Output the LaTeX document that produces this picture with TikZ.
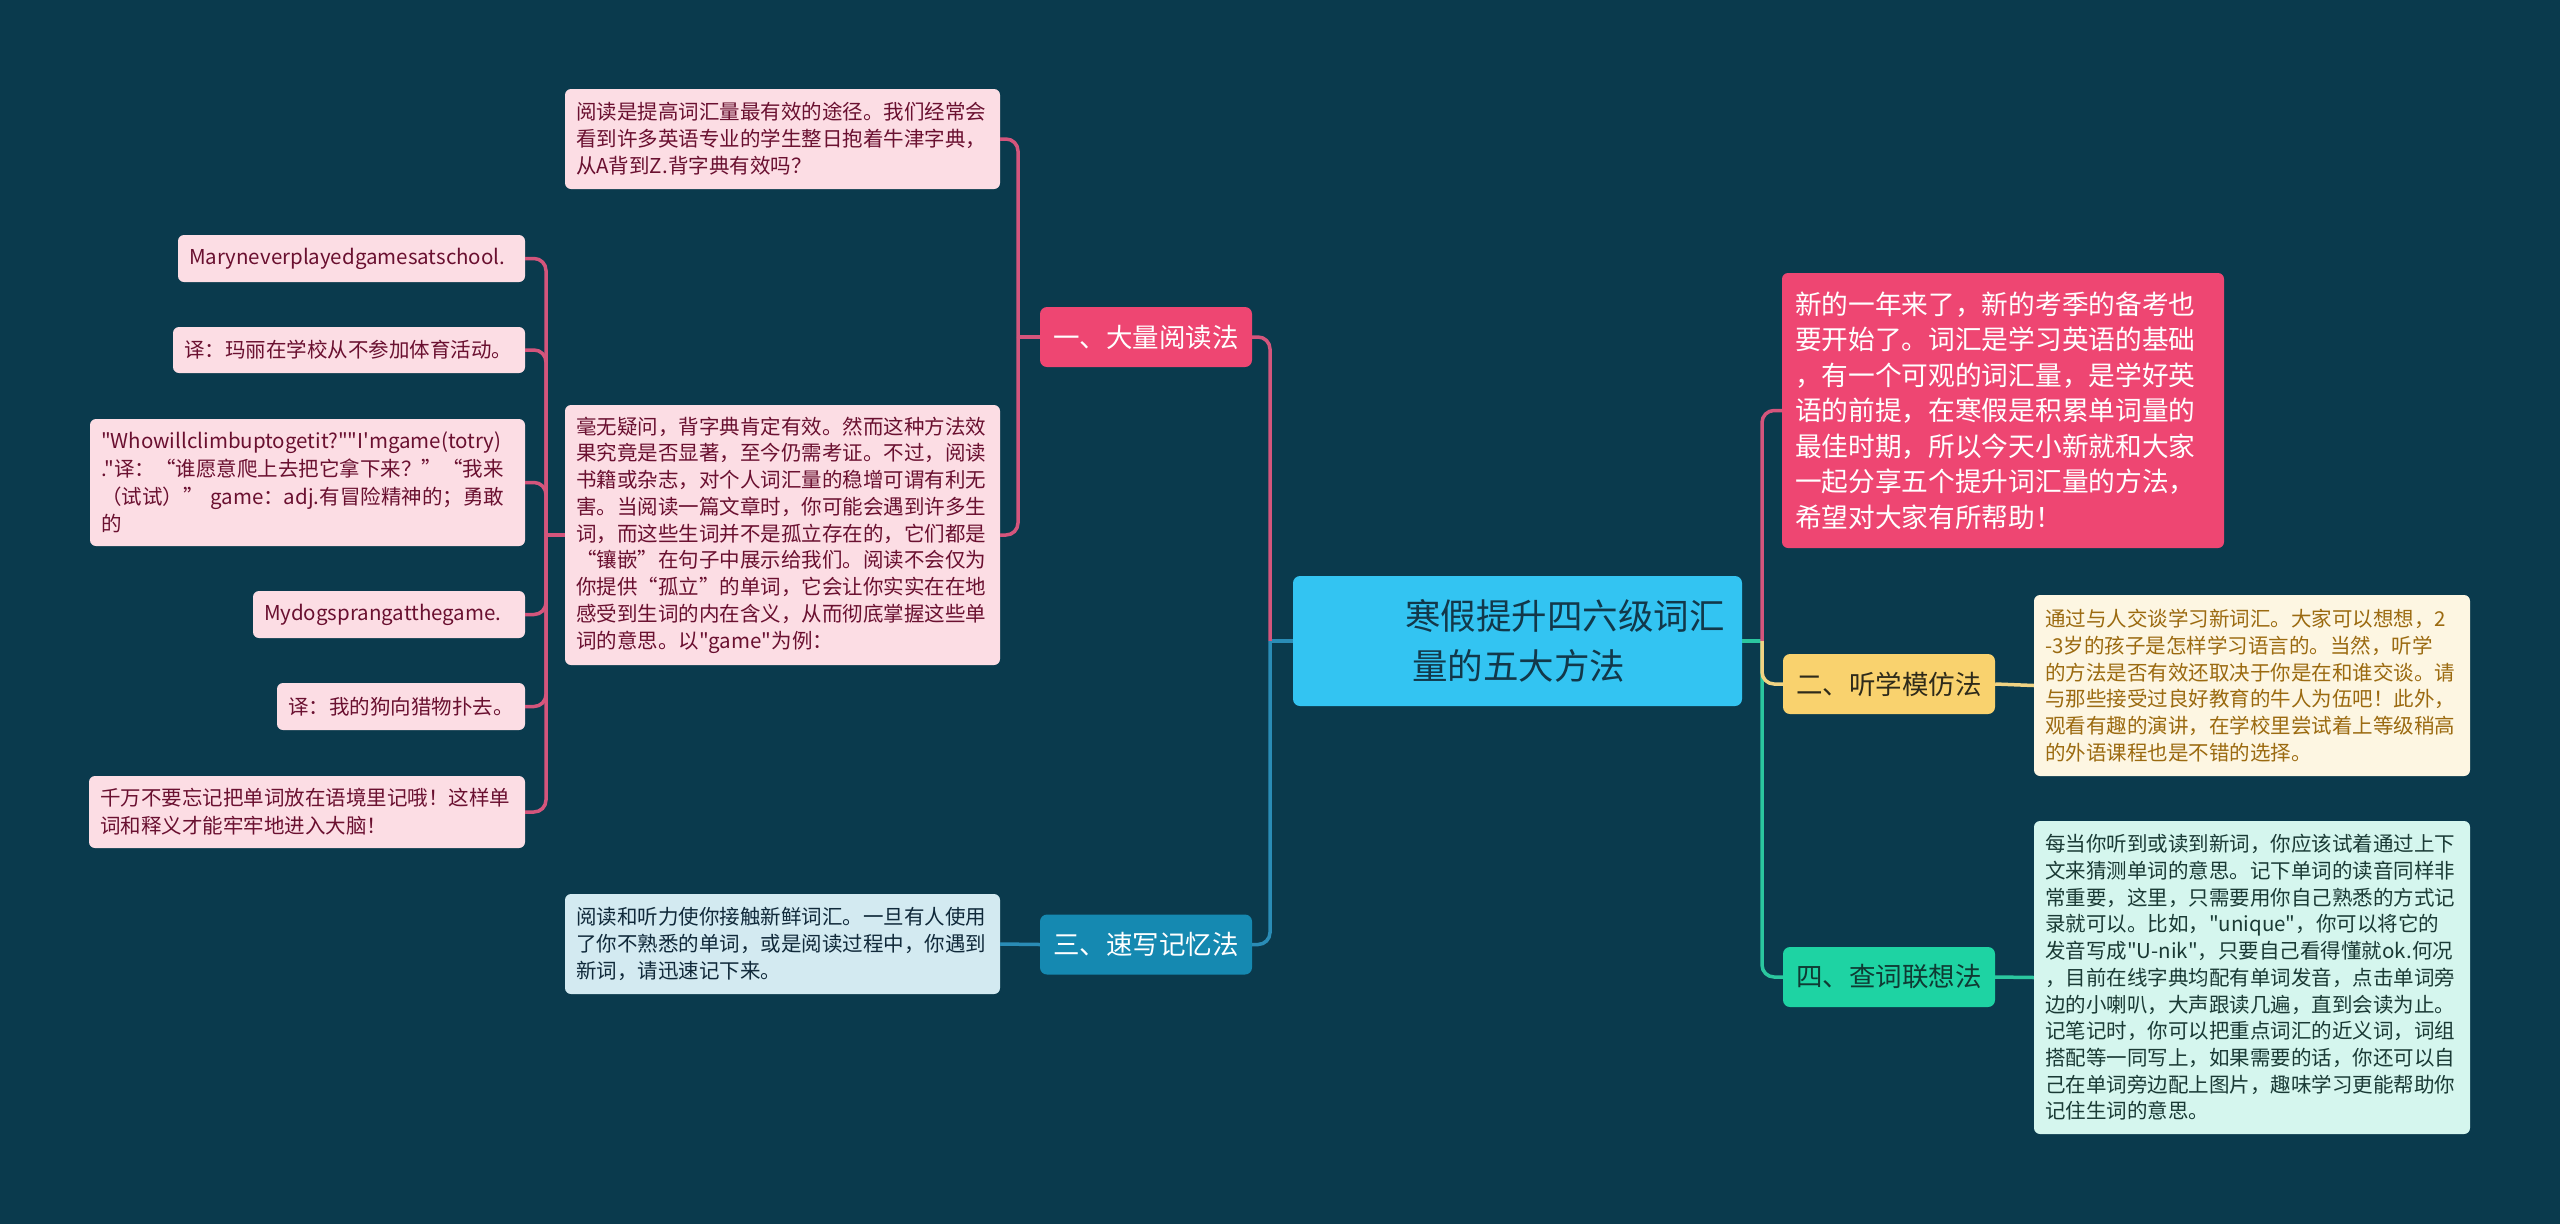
\documentclass[tikz,border=0pt]{standalone}
\usepackage{fontspec}
\newfontfamily\cjk{Noto Sans CJK SC}
\definecolor{bg}{HTML}{0A3A4D}
\definecolor{pinkfill}{HTML}{EE4672}
\definecolor{pinklight}{HTML}{FCDDE4}
\definecolor{pinktext}{HTML}{6A1030}
\definecolor{pinkline}{HTML}{D4557C}
\definecolor{bluefill}{HTML}{1589B1}
\definecolor{bluelight}{HTML}{D3EAF1}
\definecolor{bluetext}{HTML}{10293A}
\definecolor{blueline}{HTML}{2A8CB6}
\definecolor{mainfill}{HTML}{33C4F2}
\definecolor{maintext}{HTML}{12384A}
\definecolor{yellowfill}{HTML}{F9D26E}
\definecolor{yellowbtext}{HTML}{2E2A1A}
\definecolor{yellowlight}{HTML}{FDF6E2}
\definecolor{yellowtext}{HTML}{9B6A10}
\definecolor{yellowline}{HTML}{F0D383}
\definecolor{greenfill}{HTML}{1ED3A3}
\definecolor{greenbtext}{HTML}{0F3A33}
\definecolor{greenlight}{HTML}{D5F6EE}
\definecolor{greentext}{HTML}{1A3A35}
\definecolor{greenline}{HTML}{2BC79F}
\begin{document}
\begin{tikzpicture}[x=1pt,y=-1pt,
  detail/.style={rounded corners=6pt, inner xsep=11pt, inner ysep=0pt, align=left, anchor=center},
  leftfont/.style={font=\cjk\fontsize{20.5}{27}\selectfont},
  rightfont/.style={font=\cjk\fontsize{20.5}{26.7}\selectfont},
  pinkbox/.style={detail, leftfont, fill=pinklight, text=pinktext},
  branch/.style={rounded corners=7pt, inner sep=0pt, align=center, minimum width=212pt, minimum height=60pt, font=\cjk\fontsize{26.5}{30}\selectfont},
  mainbox/.style={rounded corners=7pt, inner xsep=12pt, inner ysep=0pt, align=left, fill=mainfill, text=maintext, font=\cjk\fontsize{35.5}{50}\selectfont},
  conn/.style={line width=3.5pt, rounded corners=12pt}
]
\fill[bg] (0,0) rectangle (2560,1224);
\useasboundingbox (0,0) rectangle (2560,1224);

% central topic
\node[mainbox, minimum width=449pt, minimum height=130pt, text width=425pt] (main) at (1517.5,641)
  {\hspace*{100pt}寒假提升四六级词汇\\\hspace*{107pt}量的五大方法};

% branches
\node[branch, fill=pinkfill, text=white] (b1) at (1146,337) {一、大量阅读法};
\node[branch, fill=bluefill, text=white] (b3) at (1146,944.5) {三、速写记忆法};
\node[branch, fill=yellowfill, text=yellowbtext] (b2) at (1889,684) {二、听学模仿法};
\node[branch, fill=greenfill, text=greenbtext] (b4) at (1889,977) {四、查词联想法};

% branch 1 details
\node[pinkbox, minimum width=435pt, minimum height=100pt, text width=413pt] (k1) at (782.5,139)
  {阅读是提高词汇量最有效的途径。我们经常会\\看到许多英语专业的学生整日抱着牛津字典，\\从A背到Z.背字典有效吗？};
\node[pinkbox, minimum width=435pt, minimum height=260pt, text width=413pt, font=\cjk\fontsize{20.5}{26.75}\selectfont] (k2) at (782.5,535)
  {毫无疑问，背字典肯定有效。然而这种方法效\\果究竟是否显著，至今仍需考证。不过，阅读\\书籍或杂志，对个人词汇量的稳增可谓有利无\\害。当阅读一篇文章时，你可能会遇到许多生\\词，而这些生词并不是孤立存在的，它们都是\\“镶嵌”在句子中展示给我们。阅读不会仅为\\你提供“孤立”的单词，它会让你实实在在地\\感受到生词的内在含义，从而彻底掌握这些单\\词的意思。以"game"为例：};

% examples
\node[pinkbox, minimum width=347pt, minimum height=47pt, text width=325pt] (c1) at (351.5,258.5)
  {Maryneverplayedgamesatschool.};
\node[pinkbox, minimum width=352pt, minimum height=46pt, text width=330pt] (c2) at (349,350)
  {译：玛丽在学校从不参加体育活动。};
\node[pinkbox, minimum width=435pt, minimum height=127pt, text width=413pt, font=\cjk\fontsize{20.5}{27.6}\selectfont] (c3) at (307.5,482.5)
  {"Whowillclimbuptogetit?""I'mgame(totry)\\."译：“谁愿意爬上去把它拿下来？”“我来\\（试试）” game：adj.有冒险精神的；勇敢\\的};
\node[pinkbox, minimum width=272pt, minimum height=47pt, text width=250pt] (c4) at (389,614.5)
  {Mydogsprangatthegame.};
\node[pinkbox, minimum width=248pt, minimum height=47pt, text width=226pt] (c5) at (401,706.5)
  {译：我的狗向猎物扑去。};
\node[pinkbox, minimum width=436pt, minimum height=72pt, text width=414pt, font=\cjk\fontsize{20.5}{28}\selectfont] (c6) at (307,812)
  {千万不要忘记把单词放在语境里记哦！这样单\\词和释义才能牢牢地进入大脑！};

% branch 3 detail
\node[detail, leftfont, fill=bluelight, text=bluetext, minimum width=435pt, minimum height=100pt, text width=413pt] (k3) at (782.5,944)
  {阅读和听力使你接触新鲜词汇。一旦有人使用\\了你不熟悉的单词，或是阅读过程中，你遇到\\新词，请迅速记下来。};

% intro
\node[detail, inner xsep=13pt, fill=pinkfill, text=white, minimum width=442pt, minimum height=275pt, text width=416pt, font=\cjk\fontsize{26.7}{35.5}\selectfont] (intro) at (2003,410.5)
  {新的一年来了，新的考季的备考也\\要开始了。词汇是学习英语的基础\\，有一个可观的词汇量，是学好英\\语的前提，在寒假是积累单词量的\\最佳时期，所以今天小新就和大家\\一起分享五个提升词汇量的方法，\\希望对大家有所帮助！};

% branch 2 detail
\node[detail, rightfont, fill=yellowlight, text=yellowtext, minimum width=436pt, minimum height=181pt, text width=414pt] (y1) at (2252,685.5)
  {通过与人交谈学习新词汇。大家可以想想，2\\-3岁的孩子是怎样学习语言的。当然，听学\\的方法是否有效还取决于你是在和谁交谈。请\\与那些接受过良好教育的牛人为伍吧！此外，\\观看有趣的演讲，在学校里尝试着上等级稍高\\的外语课程也是不错的选择。};

% branch 4 detail
\node[detail, rightfont, fill=greenlight, text=greentext, minimum width=436pt, minimum height=313pt, text width=414pt] (g1) at (2252,977.5)
  {每当你听到或读到新词，你应该试着通过上下\\文来猜测单词的意思。记下单词的读音同样非\\常重要，这里，只需要用你自己熟悉的方式记\\录就可以。比如，"unique"，你可以将它的\\发音写成"U-nik"，只要自己看得懂就ok.何况\\，目前在线字典均配有单词发音，点击单词旁\\边的小喇叭，大声跟读几遍，直到会读为止。\\记笔记时，你可以把重点词汇的近义词，词组\\搭配等一同写上，如果需要的话，你还可以自\\己在单词旁边配上图片，趣味学习更能帮助你\\记住生词的意思。};

% junction points
\coordinate (tl) at (1270,641);
\coordinate (t1) at (1018,337);
\coordinate (t2) at (546,535);
\coordinate (tr) at (1762,641);

% connectors
\draw[conn, blueline] (main.west) -- (tl);
\draw[conn, pinkline] (tl) |- (b1.east);
\draw[conn, blueline] (tl) |- (b3.east);
\draw[conn, pinkline] (b1.west) -- (t1);
\draw[conn, pinkline] (t1) |- (k1.east);
\draw[conn, pinkline] (t1) |- (k2.east);
\draw[conn, pinkline] (k2.west) -- (t2);
\foreach \c in {c1,c2,c3,c4,c5,c6} {
  \draw[conn, pinkline] (t2) |- (\c.east);
}
\draw[conn, blueline] (b3.west) -- (k3.east);
\draw[conn, greenline] (main.east) -- (tr);
\draw[conn, pinkline] (tr) |- (intro.west);
\draw[conn, greenline] (tr) |- (b4.west);
\draw[conn, yellowline] (tr) |- (b2.west);
\draw[conn, yellowline] (b2.east) -- (y1.west);
\draw[conn, greenline] (b4.east) -- (g1.west);
\end{tikzpicture}
\end{document}
